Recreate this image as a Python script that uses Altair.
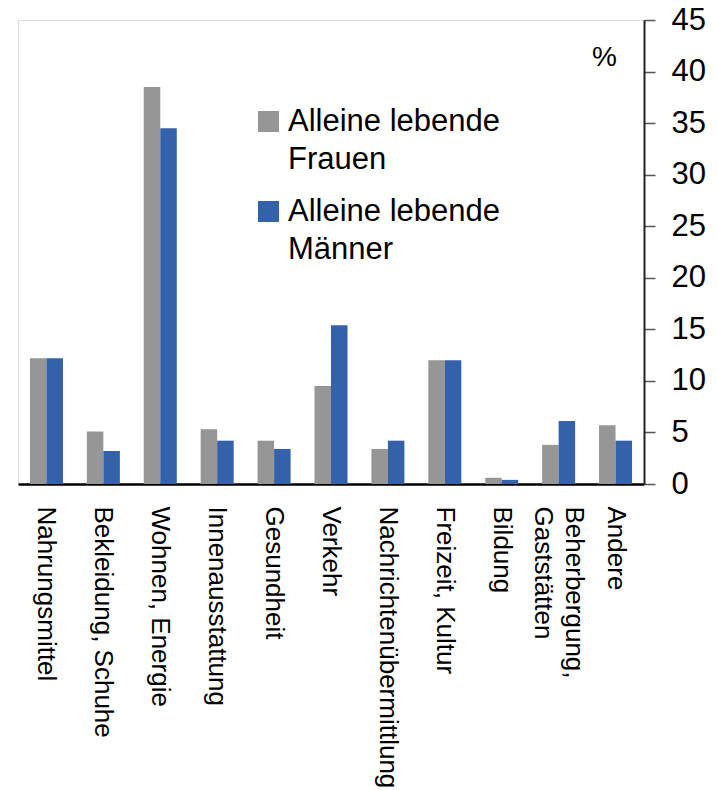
import altair as alt
import pandas as pd

categories = [
    "Nahrungsmittel",
    "Bekleidung, Schuhe",
    "Wohnen, Energie",
    "Innenausstattung",
    "Gesundheit",
    "Verkehr",
    "Nachrichtenübermittlung",
    "Freizeit, Kultur",
    "Bildung",
    "Beherbergung,\nGaststätten",
    "Andere",
]
series = ["Alleine lebende Frauen", "Alleine lebende Männer"]
frauen = [12.2, 5.1, 38.5, 5.3, 4.2, 9.5, 3.4, 12.0, 0.6, 3.8, 5.7]
maenner = [12.2, 3.2, 34.5, 4.2, 3.4, 15.4, 4.2, 12.0, 0.4, 6.1, 4.2]
y_ticks = [0, 5, 10, 15, 20, 25, 30, 35, 40, 45]
colors = ["#969696", "#3361AA"]

rows = []
for i, c in enumerate(categories):
    rows.append({"Kategorie": c, "Gruppe": series[0], "Wert": frauen[i]})
    rows.append({"Kategorie": c, "Gruppe": series[1], "Wert": maenner[i]})
df = pd.DataFrame(rows)

chart = (
    alt.Chart(df)
    .mark_bar()
    .encode(
        x=alt.X(
            "Kategorie:N",
            sort=categories,
            scale=alt.Scale(paddingInner=0.42, paddingOuter=0.21),
            axis=alt.Axis(
                title=None,
                labelAngle=90,
                labelAlign="left",
                labelBaseline="middle",
                labelPadding=22,
                labelFont="Liberation Sans",
                labelFontSize=26,
                labelColor="#000000",
                labelLineHeight=31,
                labelLimit=400,
                labelExpr="split(datum.label, '\\n')",
                labelOffset={
                    "condition": {"test": "indexof(datum.value, 'Gastst') >= 0", "value": 15},
                    "value": 0,
                },
                ticks=False,
                domainColor="#000000",
                domainWidth=2.5,
            ),
        ),
        xOffset=alt.XOffset("Gruppe:N", sort=series),
        y=alt.Y(
            "Wert:Q",
            scale=alt.Scale(domain=[0, 45], nice=False),
            axis=alt.Axis(
                orient="right",
                values=y_ticks,
                title="%",
                titleAngle=0,
                titleX=-40,
                titleY=37,
                titleAlign="center",
                titleBaseline="middle",
                titleFont="Liberation Sans",
                titleFontSize=28,
                titleFontWeight="normal",
                titleColor="#000000",
                labelFont="Liberation Sans",
                labelFontSize=31,
                labelColor="#000000",
                labelAlign="left",
                labelBaseline="middle",
                labelPadding=16,
                tickSize=11,
                tickColor="#555555",
                tickWidth=1.5,
                domainColor="#222222",
                domainWidth=2,
                grid=False,
            ),
        ),
        color=alt.Color(
            "Gruppe:N",
            sort=series,
            scale=alt.Scale(domain=series, range=colors),
            legend=alt.Legend(
                title=None,
                orient="none",
                legendX=235,
                legendY=86,
                symbolType="square",
                symbolSize=441,
                symbolStrokeWidth=0,
                symbolOpacity=1,
                labelFont="Liberation Sans",
                labelFontSize=31,
                labelColor="#000000",
                labelOffset=4,
                labelLimit=400,
                labelExpr="[substring(datum.label, 0, 15), substring(datum.label, 16)]",
                rowPadding=20,
            ),
        ),
    )
    .properties(
        width=626,
        height=464,
        autosize=alt.AutoSizeParams(type="none"),
        padding={"left": 10, "top": 12, "right": 65, "bottom": 310},
    )
    .configure_view(stroke="#555555", strokeWidth=1.5)
    .configure(background="#ffffff", style={"guide-label": {"lineHeight": 38}})
)

chart.save("out.html", embed_options={"renderer": "svg", "actions": False})
